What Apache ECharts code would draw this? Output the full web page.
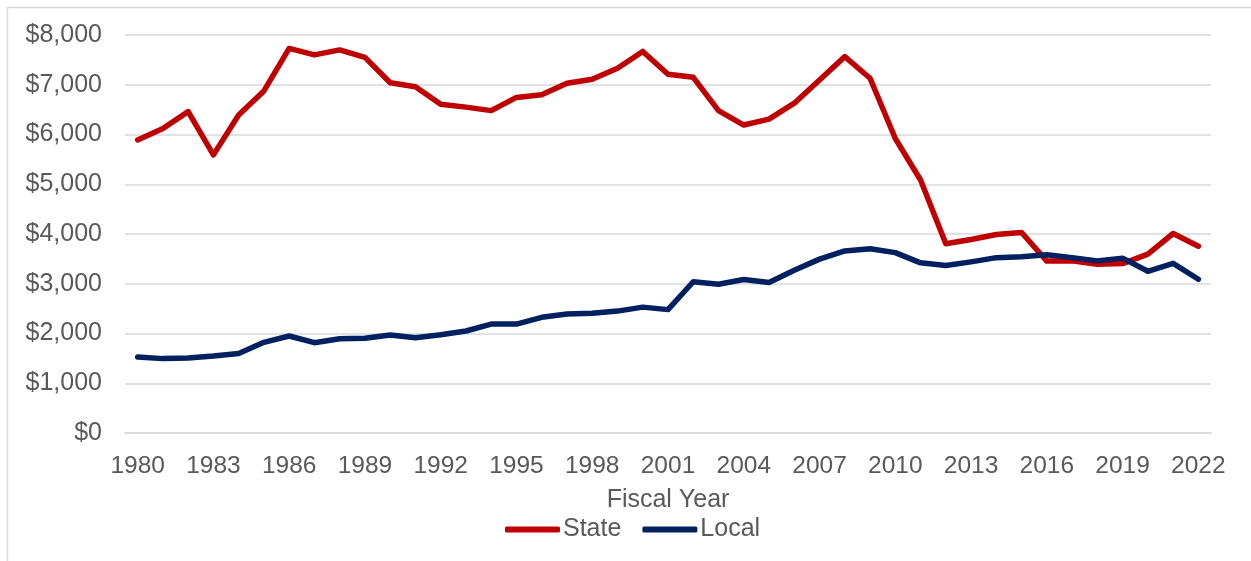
<!DOCTYPE html>
<html>
<head>
<meta charset="utf-8">
<script src="https://cdn.jsdelivr.net/npm/echarts@6/dist/echarts.min.js"></script>
<style>
html,body{margin:0;padding:0;background:#fff;}
#chart{width:1251px;height:561px;}
</style>
</head>
<body>
<div id="chart"></div>
<script>
const years = [];
for (let y = 1980; y <= 2022; y++) years.push(String(y));

const stateValues = [5890, 6120, 6460, 5590, 6390, 6875, 7730, 7600, 7700, 7550,
  7040, 6960, 6610, 6550, 6480, 6745, 6800, 7030, 7110, 7330,
  7670, 7210, 7150, 6480, 6190, 6310, 6630, 7095, 7565, 7130,
  5920, 5085, 3805, 3890, 3990, 4030, 3455, 3460, 3390, 3405,
  3595, 4010, 3755];

const localValues = [1530, 1495, 1508, 1548, 1600, 1823, 1950, 1815, 1896, 1903,
  1970, 1916, 1976, 2050, 2190, 2190, 2325, 2390, 2405, 2450,
  2530, 2480, 3040, 2990, 3085, 3025, 3270, 3495, 3660, 3705,
  3625, 3420, 3365, 3440, 3525, 3545, 3585, 3525, 3460, 3515,
  3250, 3410, 3090];

const seriesNames = ['State', 'Local'];
const xAxisTitle = 'Fiscal Year';

const font = '"Liberation Sans", Arial, sans-serif';
const textColor = '#595959';

const chart = echarts.init(document.getElementById('chart'), null, {renderer: 'canvas'});
chart.setOption({
  animation: false,
  backgroundColor: '#ffffff',
  textStyle: {fontFamily: font},
  graphic: [{
    type: 'rect',
    shape: {x: 7.5, y: 7.5, width: 1400, height: 700},
    style: {fill: 'none', stroke: '#d9d9d9', lineWidth: 1.5},
    silent: true
  }],
  grid: {left: 125, right: 40, top: 35, bottom: 128, containLabel: false, outerBoundsMode: 'none'},
  legend: {
    data: seriesNames,
    left: 500,
    top: 512,
    icon: 'roundRect',
    itemWidth: 55,
    itemHeight: 6,
    itemGap: 21,
    textStyle: {fontFamily: font, fontSize: 25, color: textColor, padding: [0, 0, 0, -2]}
  },
  xAxis: {
    type: 'category',
    data: years,
    boundaryGap: true,
    name: xAxisTitle,
    nameLocation: 'middle',
    nameGap: 55,
    nameTextStyle: {fontFamily: font, fontSize: 25, color: textColor},
    axisLine: {show: true, lineStyle: {color: '#d9d9d9', width: 1.5}},
    axisTick: {show: false},
    axisLabel: {interval: 2, margin: 21, fontFamily: font, fontSize: 24.5, color: textColor}
  },
  yAxis: {
    type: 'value',
    min: 0,
    max: 8000,
    interval: 1000,
    axisLine: {show: false},
    axisTick: {show: false},
    splitLine: {lineStyle: {color: '#d9d9d9', width: 1.5}},
    axisLabel: {
      margin: 23,
      fontFamily: font,
      fontSize: 25,
      color: textColor,
      formatter: v => '$' + v.toLocaleString('en-US')
    }
  },
  series: [
    {
      name: seriesNames[0],
      type: 'line',
      data: stateValues,
      showSymbol: false,
      symbol: 'none',
      color: '#C00000',
      lineStyle: {width: 5.5, color: '#C00000', cap: 'round', join: 'round'}
    },
    {
      name: seriesNames[1],
      type: 'line',
      data: localValues,
      showSymbol: false,
      symbol: 'none',
      color: '#002060',
      lineStyle: {width: 5.5, color: '#002060', cap: 'round', join: 'round'}
    }
  ]
});
</script>
</body>
</html>
